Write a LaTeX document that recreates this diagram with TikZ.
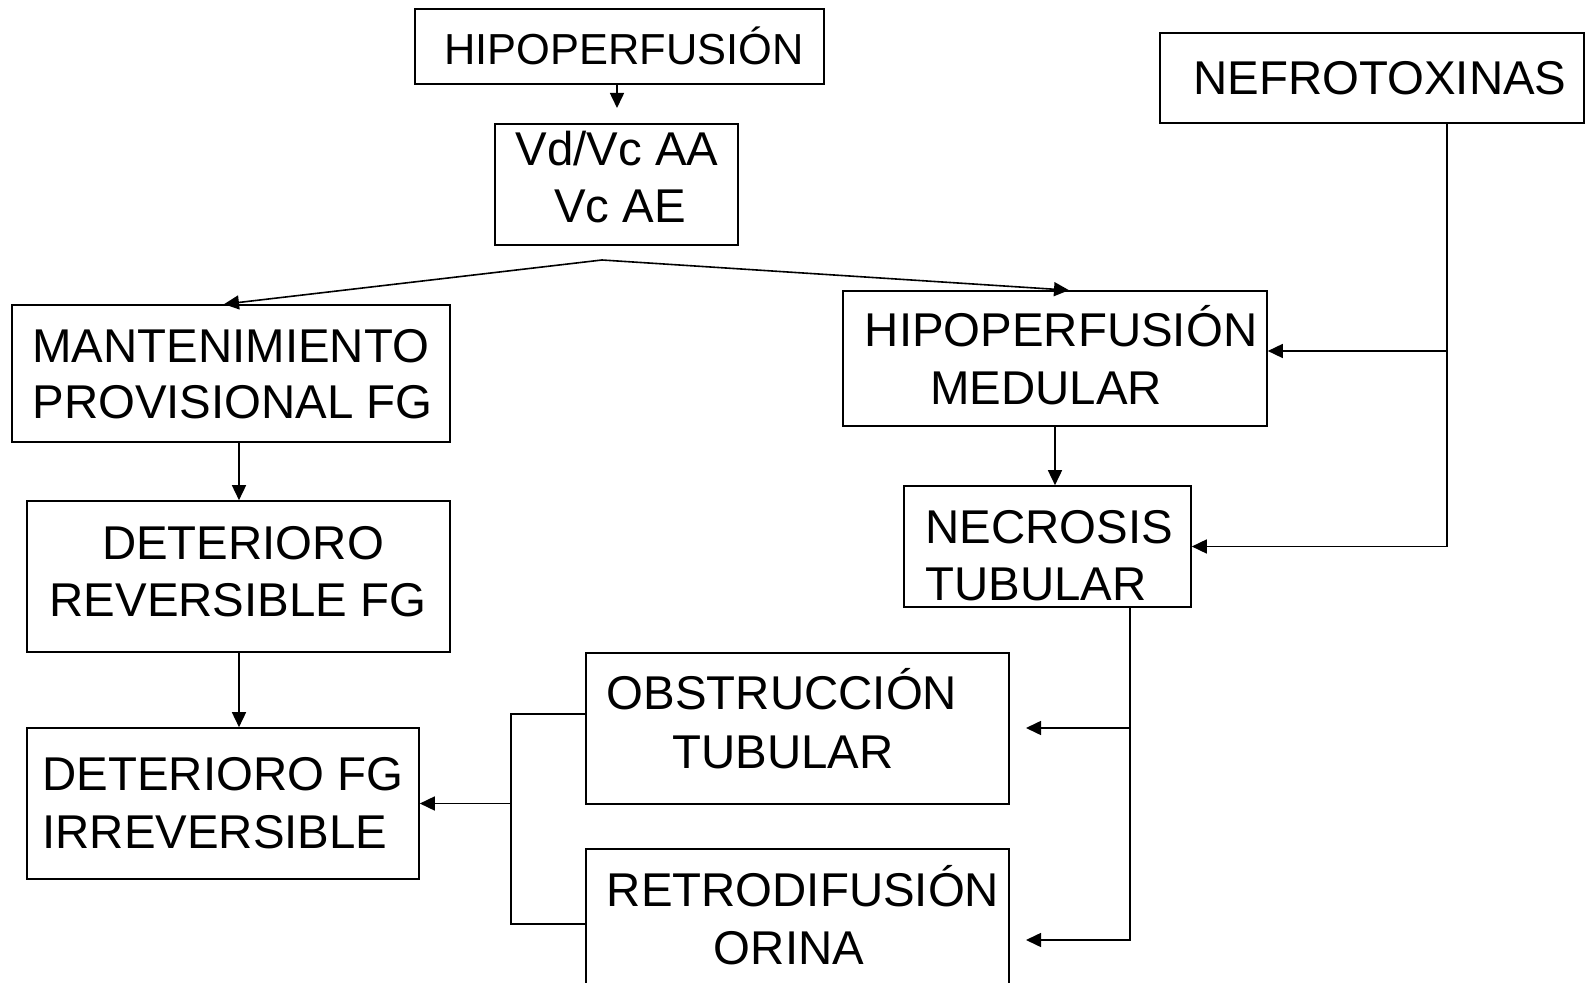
\documentclass[tikz,border=0pt]{standalone}
\usepackage{fontspec}
\setmainfont{Liberation Sans}
\usetikzlibrary{fit,arrows.meta}
\begin{document}
\begin{tikzpicture}[x=0.5pt,y=-0.5pt,
  box/.style={draw, line width=0.8pt, inner sep=0pt},
  lbl/.style={font=\fontsize{23.7}{28.5}\selectfont, inner sep=0pt, anchor=base},
  lblw/.style={lbl, anchor=base west},
  conn/.style={line width=0.8pt},
  arr/.style={conn, -{Triangle[length=7.5pt,width=7pt]}}]
\useasboundingbox (0,0) rectangle (1585,983);
\clip (0,0) rectangle (1585,983);
% boxes
\node[box, fit={(415,9)(824,84)}] (hip) {};
\node[box, fit={(495,124)(738,245)}] (vd) {};
\node[box, fit={(1160,33)(1584,123)}] (nef) {};
\node[box, fit={(12,305)(450,442)}] (mant) {};
\node[box, fit={(843,291)(1267,426)}] (med) {};
\node[box, fit={(904,486)(1191,607)}] (nec) {};
\node[box, fit={(27,501)(450,652)}] (detrev) {};
\node[box, fit={(27,728)(419,879)}] (irr) {};
\node[box, fit={(586,653)(1009,804)}] (obs) {};
\node[box, fit={(586,849)(1009,1010)}] (ret) {};
% texts
\node[lbl, font=\fontsize{21.7}{26}\selectfont] (thip) at (624,65) {HIPOPERFUSIÓN};
\node[lbl] (tvd1) at (617,166) {Vd/Vc AA};
\node[lbl] (tvd2) at (620,223) {Vc AE};
\node[lbl] (tnef) at (1380,95) {NEFROTOXINAS};
\node[lblw] (tmant1) at (32,363) {MANTENIMIENTO};
\node[lblw] (tmant2) at (32,419) {PROVISIONAL FG};
\node[lbl] (tmed1) at (1061,347) {HIPOPERFUSIÓN};
\node[lbl] (tmed2) at (1046,405) {MEDULAR};
\node[lblw] (tnec1) at (925,544) {NECROSIS};
\node[lblw] (tnec2) at (925,601) {TUBULAR};
\node[lbl] (tdet1) at (243,560) {DETERIORO};
\node[lbl] (tdet2) at (238,617) {REVERSIBLE FG};
\node[lblw] (tirr1) at (42,790) {DETERIORO FG};
\node[lblw] (tirr2) at (42,848) {IRREVERSIBLE};
\node[lbl] (tobs1) at (782,710) {OBSTRUCCIÓN};
\node[lbl] (tobs2) at (783,768) {TUBULAR};
\node[lbl] (tret1) at (803,906) {RETRODIFUSIÓN};
\node[lbl] (tret2) at (789,964) {ORINA};
% helper coordinates
\coordinate (hipend) at (617,108);
\coordinate (apex) at (602,260);
\coordinate (tipL) at (224,0);
\coordinate (tipR) at (1069,0);
\coordinate (lx) at (239,0);
\coordinate (mx) at (1055,0);
\coordinate (nx) at (1447,0);
\coordinate (nmed) at (1447,351);
\coordinate (kx) at (1130,0);
\coordinate (obsTip) at (1026,728);
\coordinate (retTip) at (1026,940);
\coordinate (bx) at (511,0);
\coordinate (bo) at (0,714);
\coordinate (br) at (0,924);
% connectors
\draw[arr] (hip.south -| hipend) -- (hipend);
\draw[arr] (apex) -- (mant.north -| tipL);
\draw[arr] (apex) -- (med.north -| tipR);
\draw[arr] (mant.south -| lx) -- (detrev.north -| lx);
\draw[arr] (detrev.south -| lx) -- (irr.north -| lx);
\draw[arr] (med.south -| mx) -- (nec.north -| mx);
\draw[arr] (nef.south -| nx) |- (nec.east);
\draw[arr] (nmed) -- (med.east |- nmed);
\draw[arr] (nec.south -| kx) |- (retTip);
\draw[arr] (kx |- obsTip) -- (obsTip);
\draw[conn] (obs.west |- bo) -| (bx |- br) -- (ret.west |- br);
\draw[arr] (bx |- irr.east) -- (irr.east);
\end{tikzpicture}
\end{document}
